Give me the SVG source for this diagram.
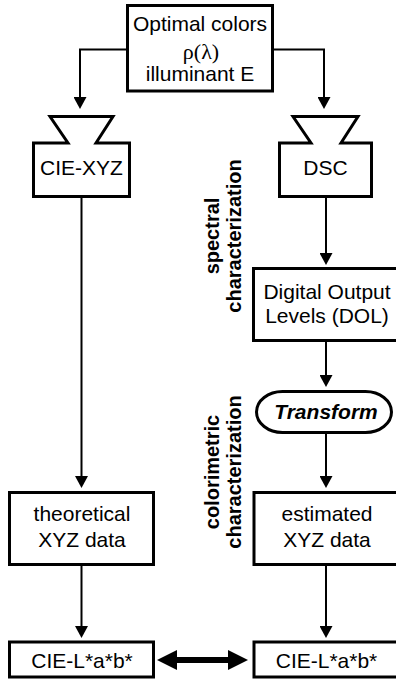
<svg xmlns="http://www.w3.org/2000/svg" width="396" height="681" viewBox="0 0 396 681">
  <defs>
    <style>
      .box { fill: #fff; stroke: #000; stroke-width: 3; stroke-linejoin: miter; }
      .lbl { font-family: "Liberation Sans", Arial, sans-serif; font-size: 21px; fill: #000; text-anchor: middle; }
      .sym { font-family: "Liberation Serif", "Times New Roman", serif; font-size: 22px; fill: #000; text-anchor: middle; }
      .side { font-family: "Liberation Sans", Arial, sans-serif; font-size: 20px; font-weight: bold; fill: #000; text-anchor: middle; }
      .op { font-family: "Liberation Sans", Arial, sans-serif; font-size: 21px; font-weight: bold; font-style: italic; fill: #000; text-anchor: middle; }
      .link { fill: none; stroke: #000; stroke-width: 2; }
      .dbl { fill: none; stroke: #000; stroke-width: 6; }
    </style>
    <marker id="arrow" markerUnits="userSpaceOnUse" markerWidth="12" markerHeight="13" refX="8" refY="6.5" orient="auto">
      <path d="M0,0 L12,6.5 L0,13 Z" fill="#000"/>
    </marker>
    <marker id="bigArrow" markerUnits="userSpaceOnUse" markerWidth="20" markerHeight="20" refX="6" refY="10" orient="auto-start-reverse">
      <path d="M0,0 L20,10 L0,20 Z" fill="#000"/>
    </marker>
  </defs>

  <!-- connectors -->
  <g id="connectors">
    <path class="link" d="M127,49.5 H80 V105" marker-end="url(#arrow)"/>
    <path class="link" d="M273,49.5 H324 V105" marker-end="url(#arrow)"/>
    <path class="link" d="M81.5,198 V484" marker-end="url(#arrow)"/>
    <path class="link" d="M326,198 V261" marker-end="url(#arrow)"/>
    <path class="link" d="M326,342 V383" marker-end="url(#arrow)"/>
    <path class="link" d="M326,433 V484" marker-end="url(#arrow)"/>
    <path class="link" d="M81.5,566 V634" marker-end="url(#arrow)"/>
    <path class="link" d="M326,566 V634" marker-end="url(#arrow)"/>
    <line class="dbl" x1="171" y1="660" x2="234" y2="660" marker-start="url(#bigArrow)" marker-end="url(#bigArrow)"/>
  </g>

  <!-- source -->
  <g id="source">
    <rect class="box" x="127.5" y="5.5" width="145" height="85.5"/>
    <text class="lbl" x="200" y="31">Optimal colors</text>
    <text class="sym" x="201" y="59">ρ(λ)</text>
    <text class="lbl" x="200" y="81">illuminant E</text>
  </g>

  <!-- observers -->
  <g id="cie-xyz">
    <path class="box" d="M33.5,143 L68,143 L50,116.5 L113,116.5 L96,143 L129.5,143 L129.5,196.5 L33.5,196.5 Z"/>
    <text class="lbl" x="81.5" y="175">CIE-XYZ</text>
  </g>
  <g id="dsc">
    <path class="box" d="M279.5,143 L311,143 L293,116.5 L358,116.5 L341,143 L371.5,143 L371.5,196.5 L279.5,196.5 Z"/>
    <text class="lbl" x="325.5" y="175">DSC</text>
  </g>

  <!-- camera side -->
  <g id="dol">
    <rect class="box" x="253.5" y="268.5" width="147" height="72"/>
    <text class="lbl" x="327" y="299">Digital Output</text>
    <text class="lbl" x="327" y="323">Levels (DOL)</text>
  </g>
  <g id="transform">
    <rect class="box" x="256.5" y="391.5" width="135" height="41" rx="26" ry="20.5"/>
    <text class="op" x="326" y="419">Transform</text>
  </g>
  <g id="estimated">
    <rect class="box" x="254" y="492.5" width="147" height="72"/>
    <text class="lbl" x="327" y="521">estimated</text>
    <text class="lbl" x="327" y="547">XYZ data</text>
  </g>
  <g id="lab-right">
    <rect class="box" x="254" y="642" width="147" height="35"/>
    <text class="lbl" x="326.5" y="668">CIE-L*a*b*</text>
  </g>

  <!-- reference side -->
  <g id="theoretical">
    <rect class="box" x="9.5" y="492.5" width="144" height="72"/>
    <text class="lbl" x="82" y="521">theoretical</text>
    <text class="lbl" x="82" y="547">XYZ data</text>
  </g>
  <g id="lab-left">
    <rect class="box" x="9.5" y="642" width="144" height="35"/>
    <text class="lbl" x="82" y="668">CIE-L*a*b*</text>
  </g>

  <!-- stage captions -->
  <g id="stage-spectral" transform="translate(0,236) rotate(-90)">
    <text class="side" x="0" y="219">spectral</text>
    <text class="side" x="0" y="241">characterization</text>
  </g>
  <g id="stage-colorimetric" transform="translate(0,472) rotate(-90)">
    <text class="side" x="0" y="219">colorimetric</text>
    <text class="side" x="0" y="241">characterization</text>
  </g>
</svg>
